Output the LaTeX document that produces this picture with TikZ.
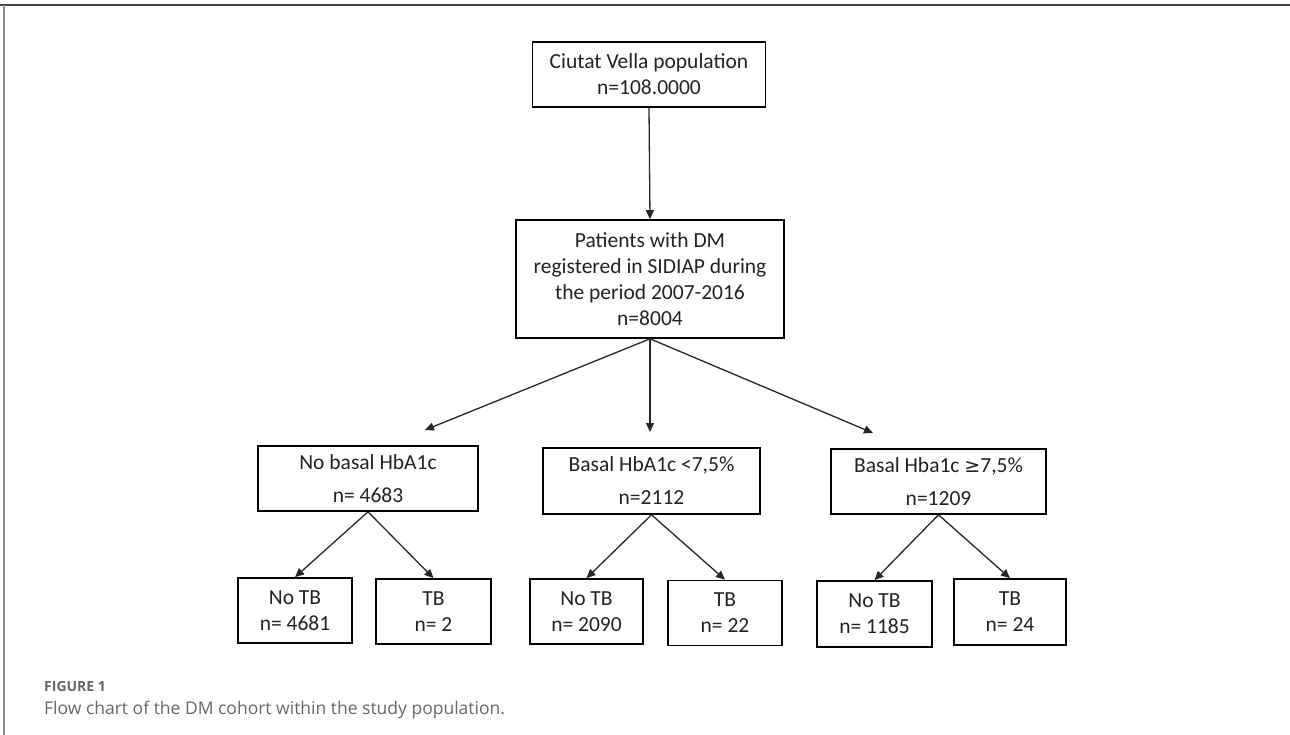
\documentclass[tikz,border=0pt]{standalone}
\usepackage{fontspec}
\setmainfont{Carlito}
\newfontfamily\capfont{Open Sans}
\usetikzlibrary{arrows.meta}
\definecolor{txt}{HTML}{222222}
\definecolor{capgray}{HTML}{666666}
\tikzset{
  box/.style={draw=black, line width=1.6pt, inner sep=0pt, align=center, text=txt,
    font=\fontsize{21.5}{26}\selectfont},
  boxtwo/.style={box, font=\fontsize{21.5}{33}\selectfont},
  arr/.style={draw=black!85, line width=1.3pt, -{Triangle[length=9pt,width=8pt]}},
}
\begin{document}
\begin{tikzpicture}[x=1pt,y=-1pt]
\useasboundingbox (0,0) rectangle (1290,735);
% frame
\draw[black!75, line width=2pt] (0,5) -- (1290,5);
\draw[black!45, line width=1.5pt] (4,5) -- (4,735);

% boxes
\node[box, minimum width=233pt, minimum height=65pt] (top) at (649,74.5)
  {Ciutat Vella population\\n=108.0000};
\node[box, minimum width=268pt, minimum height=118pt] (dm) at (650,279)
  {Patients with DM\\registered in SIDIAP during\\the period 2007-2016\\n=8004};

\node[boxtwo, minimum width=220pt, minimum height=65pt] (a) at (368,478.5)
  {No basal HbA1c\\n= 4683};
\node[boxtwo, minimum width=217pt, minimum height=66pt] (b) at (651.5,481)
  {Basal HbA1c <7,5\%\\n=2112};
\node[boxtwo, minimum width=215pt, minimum height=65pt] (c) at (938.5,481.5)
  {Basal Hba1c {\fontspec{DejaVu Sans}\fontsize{19}{26}\selectfont ≥}7,5\%\\n=1209};

\node[box, minimum width=114pt, minimum height=65pt] (a1) at (295,610.5) {No TB\\n= 4681};
\node[box, minimum width=115pt, minimum height=65pt] (a2) at (433.5,611.5) {TB\\n= 2};
\node[box, minimum width=113pt, minimum height=65pt] (b1) at (586.5,611.5) {No TB\\n= 2090};
\node[box, minimum width=114pt, minimum height=65pt] (b2) at (725,613) {TB\\n= 22};
\node[box, minimum width=115pt, minimum height=66pt] (c1) at (874.5,614) {No TB\\n= 1185};
\node[box, minimum width=112pt, minimum height=66pt] (c2) at (1010,612) {TB\\n= 24};

% free arrow ends
\coordinate (ta) at (425,430);
\coordinate (tb) at (650,432);
\coordinate (tc) at (873,433);

% connectors
\draw[arr] (top.south) -- (dm.north);
\draw[arr] (dm.south) -- (ta);
\draw[arr] (dm.south) -- (tb);
\draw[arr] (dm.south) -- (tc);
\draw[arr] (a.south) -- (a1.north);
\draw[arr] (a.south) -- (a2.north);
\draw[arr] (b.south) -- (b1.north);
\draw[arr] (b.south) -- (b2.north);
\draw[arr] (c.south) -- (c1.north);
\draw[arr] (c.south) -- (c2.north);

% caption
\node[anchor=west, inner sep=0pt, text=capgray, font=\capfont\bfseries\fontsize{14}{16}\selectfont] (fig) at (44,686) {FIGURE 1};
\node[anchor=west, inner sep=0pt, text=capgray, font=\capfont\fontsize{17.5}{20}\selectfont] (cap) at (44,710) {Flow chart of the DM cohort within the study population.};
\end{tikzpicture}
\end{document}
